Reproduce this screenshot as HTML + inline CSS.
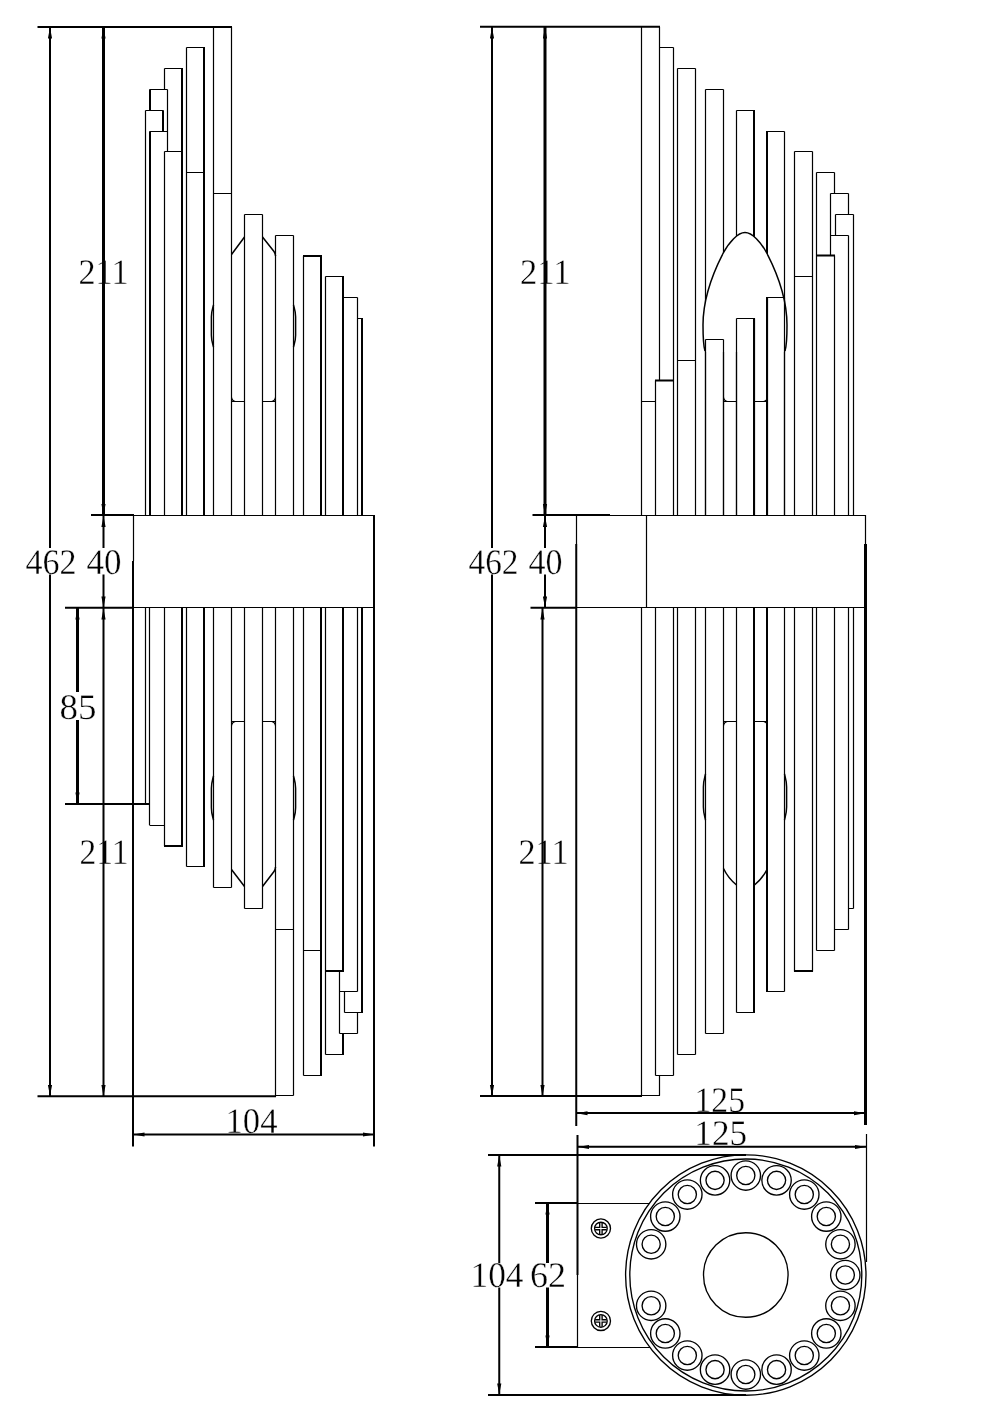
<!DOCTYPE html>
<html><head><meta charset="utf-8"><title>Wall lamp drawing</title>
<style>html,body{margin:0;padding:0;background:#fff;}body{width:992px;height:1403px;overflow:hidden;font-family:"Liberation Serif",serif;}svg{display:block;will-change:transform;opacity:0.999;}</style>
</head><body>
<svg width="992" height="1403" viewBox="0 0 992 1403">
<rect width="992" height="1403" fill="#fff"/>
<g font-family="'Liberation Serif', serif" font-size="36" fill="#000" stroke="#fff" stroke-width="0.35" text-rendering="geometricPrecision"><text x="103.5" y="284" text-anchor="middle" textLength="50" lengthAdjust="spacingAndGlyphs">211</text><text x="51" y="574" text-anchor="middle" textLength="51" lengthAdjust="spacingAndGlyphs">462</text><text x="104" y="574" text-anchor="middle" textLength="35" lengthAdjust="spacingAndGlyphs">40</text><text x="78" y="719" text-anchor="middle" textLength="37" lengthAdjust="spacingAndGlyphs">85</text><text x="104" y="864" text-anchor="middle" textLength="49" lengthAdjust="spacingAndGlyphs">211</text><text x="251.5" y="1133" text-anchor="middle" textLength="52" lengthAdjust="spacingAndGlyphs">104</text><text x="545.25" y="284" text-anchor="middle" textLength="50.5" lengthAdjust="spacingAndGlyphs">211</text><text x="493.5" y="574" text-anchor="middle" textLength="50" lengthAdjust="spacingAndGlyphs">462</text><text x="545.5" y="574" text-anchor="middle" textLength="34" lengthAdjust="spacingAndGlyphs">40</text><text x="543.5" y="863.75" text-anchor="middle" textLength="50" lengthAdjust="spacingAndGlyphs">211</text><text x="719.75" y="1111.9" text-anchor="middle" textLength="50.5" lengthAdjust="spacingAndGlyphs">125</text><text x="720.7" y="1144.5" text-anchor="middle" textLength="52.8" lengthAdjust="spacingAndGlyphs">125</text><text x="497" y="1287" text-anchor="middle" textLength="53" lengthAdjust="spacingAndGlyphs">104</text><text x="548" y="1287" text-anchor="middle" textLength="36" lengthAdjust="spacingAndGlyphs">62</text></g>
<g fill="none" stroke="#000" stroke-linecap="butt">
<path stroke-width="1.2" d="M133 515.5H374.5M133 607.5H374.5M133.5 515V561M145.5 110.5V515.5M145.5 110.5H163.5M167.5 89.5V151.5M149.5 89.5H167.5M149.5 131.5H167.5M164.5 68.5V89.5M164.5 151.5V515.5M164.5 68.5H182.5M164.5 151.5H182.5M186.5 47.5V515.5M186.5 47.5H204.5M186.5 172.5H204.5M213.5 27V515.5M231.5 27V515.5M213.5 193.5H231.5M244.5 214.5V515.5M262.5 214.5V515.5M244.5 214.5H262.5M275.5 235.5V515.5M293.5 235.5V515.5M275.5 235.5H293.5M303.5 256V515.5M325.5 276.5V515.5M325.5 276.5H343.5M357.5 297.5V515.5M343.5 297.5H357.5M357.5 318.5H362.5M231.5 401.5H244.5M231.5 397Q232 401 235.5 401.5M275.5 401.5H262.5M275.5 397Q275 401 271.5 401.5M145.5 607.5V804M149.5 607.5V825M149.5 825.5H164M164.5 607.5V846M186.5 607.5V866.5M186.5 866.5H204.5M213.5 607.5V887.5M231.5 607.5V887.5M213.5 887.5H231.5M244.5 607.5V908.5M262.5 607.5V908.5M244.5 908.5H262.5M275.5 607.5V1096.5M293.5 607.5V1095.5M275.5 929.5H293.5M275.5 1095.5H293.5M303.5 607.5V1075.5M303.5 950.5H321.5M303.5 1075.5H321.5M325.5 607.5V1054.5M325.5 1054.5H343.5M339.5 971V1033.5M357.5 607.5V991.5M357.5 1012.5V1033.5M339.5 991.5H357.5M339.5 1033.5H357.5M344.5 991.5V1012.5M344.5 1012.5H362.5M231.5 721.5H244.5M231.5 726Q232 722 235.5 721.5M275.5 721.5H262.5M275.5 726Q275 722 271.5 721.5M642 1095.5H660M576 515.5H865.5M576 607.5H865.5M576.5 515V544M646.5 515.5V607.5M865.5 515V544M641.5 27V515.5M641.5 401.5H655.5M655.5 380.5V515.5M659.5 27V380.5M673.5 47.5V515.5M659.5 47.5H673.5M677.5 68.5V515.5M695.5 68.5V515.5M677.5 68.5H695.5M677.5 360.5H695.5M705.5 89.5V515.5M723.5 89.5V515.5M705.5 89.5H723.5M736.5 110.5V515.5M736.5 110.5H754.5M784.5 131.5V515.5M767 131.5H784.5M794.5 151.5V515.5M812.5 151.5V515.5M794.5 151.5H812.5M794.5 276.5H812.5M816.5 172.5V515.5M834.5 172.5V193.5M834.5 255.5V515.5M816.5 172.5H834.5M830.5 193.5V255.5M848.5 193.5V214.5M848.5 235.5V515.5M830.5 193.5H848.5M830.5 235.5H848.5M835.5 214.5V235.5M853.5 214.5V515.5M835.5 214.5H853.5M641.5 607.5V1095.5M655.5 607.5V1075.5M659.5 1075.5V1095.5M673.5 607.5V1075.5M655.5 1075.5H673.5M677.5 607.5V1054.5M695.5 607.5V1054.5M677.5 1054.5H695.5M705.5 607.5V1033.5M723.5 607.5V1033.5M705.5 1033.5H723.5M736.5 607.5V1012.5M736.5 1012.5H754.5M784.5 607.5V991.5M767 991.5H784.5M794.5 607.5V971.5M812.5 607.5V971.5M816.5 607.5V950.5M834.5 607.5V950.5M816.5 950.5H834.5M848.5 607.5V929.5M834.5 929.5H848.5M853.5 607.5V908.5M848.5 908.5H853.5M723.5 721.5H736.5M723.5 726Q724 722 727.5 721.5M767.5 721.5H754.5M767.5 726Q767 722 763.5 721.5M577.5 1275V1347M577.5 1203.5H650M577.5 1347.5H650M866.5 1134V1262"/>
<path stroke-width="2" d="M37.5 27H232M50 27V548M50 574.5V1096.5M133 1134.5H374.5M480 26.75H660M492 27V548M492 574.5V1096M499.25 1155V1263M499.25 1287.5V1395M535 1203H578M535 1347H578"/>
<path stroke-width="1.5" d="M231.5 254.5L244.5 237M262.5 237L274 251.5Q275.5 253.5 275.5 256M213.5 305C212.66 308.36 211.4 311.3 211.4 316.76V335.24C211.4 340.7 212.66 343.64 213.5 347M293.5 305C294.34 308.36 295.6 311.3 295.6 316.76V335.24C295.6 340.7 294.34 343.64 293.5 347M231.5 869.5L244.5 886.5M262.5 886.5L274 871.5Q275.5 869.5 275.5 867M213.5 776C212.66 779.52 211.4 782.6 211.4 788.32V807.68C211.4 813.4 212.66 816.48 213.5 820M293.5 776C294.34 779.52 295.6 782.6 295.6 788.32V807.68C295.6 813.4 294.34 816.48 293.5 820M723.5 868.5Q728 878 736.5 885M767.5 868.5Q763 878 754.5 885M705.5 774C704.66 777.68 703.4 780.9 703.4 786.88V807.12C703.4 813.1 704.66 816.32 705.5 820M784.5 774C785.34 777.68 786.6 780.9 786.6 786.88V807.12C786.6 813.1 785.34 816.32 784.5 820"/>
<path stroke-width="2" d="M37.5 1096.25H276M103.5 515V548M103.5 574.5V608M103.5 608V1096.5M91 514.9H134M65 607.7H133M65 803.9H150M133 561V1146.5M374 515V1146.5M163 110.5V131.5M150 89.5V110.5M150 131.5V515.5M182 68V515.5M204 47V515.5M321 255.5V515.5M303 256H322M343 276V515.5M362 318V515.5M182 607.5V846.5M164 846H183M204 607.5V867M321 607.5V1076M343 607.5V972M343 1033.5V1055M325 971H344M362 607.5V1013M480 1096H642M545 515V548M545 574.5V608M542.5 608V1096M532.5 514.9H610M530.5 607.7H577M576.25 544V1126M576 1113H865.5M655 380.5H674M754 110V515.5M767 131V515.5M816 255.5H835M754 607.5V1013M767 607.5V992M794 971H813M488 1155H746M488 1395H746M577.5 1135V1275M577.5 1146.75H866.5"/>
<path stroke-width="3" d="M103.5 27V515M77.5 608V692M77.5 720V804M545 27V515M865.5 544V1125M547.5 1203V1263M547.5 1287.5V1347"/>
</g>
<path d="M745 232.5C752 232.5 761 242 767 253.5C776 271 787 298 787 325C787 338 786.5 346 785 351L785 352H705V351C703.5 346 703 338 703 325C703 298 714 271 723 253.5C729 242 738 232.5 745 232.5Z" fill="#fff" stroke="none"/>
<path d="M705 351C703.5 346 703 338 703 325C703 298 714 271 723 253.5C729 242 738 232.5 745 232.5C752 232.5 761 242 767 253.5C776 271 787 298 787 325C787 338 786.5 346 785 351" fill="none" stroke="#000" stroke-width="1.5"/>
<g fill="none" stroke="#000">
<path stroke-width="1.2" d="M705.5 339.5V515.5M723.5 339.5V515.5M705.5 339.5H723.5M736.5 318.5V515.5M754.5 318.5V515.5M736.5 318.5H754.5M767.5 297.5V515.5M784.5 297.5V515.5M767 297.5H784.5M723.5 401.5H736.5M723.5 397Q724 401 727.5 401.5M767.5 401.5H754.5M767.5 397Q767 401 763.5 401.5"/>
<path stroke-width="2" d="M754 318V515.5M767 297V515.5"/>
</g>
<g fill="none" stroke="#000" stroke-width="1.35"><circle cx="745.8" cy="1275" r="120.2"/><circle cx="745.8" cy="1275" r="116"/><circle cx="745.8" cy="1275" r="42.3"/><circle cx="745.80" cy="1175.50" r="14.7"/><circle cx="745.80" cy="1175.50" r="9.1"/><circle cx="776.55" cy="1180.37" r="14.7"/><circle cx="776.55" cy="1180.37" r="9.1"/><circle cx="804.28" cy="1194.50" r="14.7"/><circle cx="804.28" cy="1194.50" r="9.1"/><circle cx="826.30" cy="1216.52" r="14.7"/><circle cx="826.30" cy="1216.52" r="9.1"/><circle cx="840.43" cy="1244.25" r="14.7"/><circle cx="840.43" cy="1244.25" r="9.1"/><circle cx="845.30" cy="1275.00" r="14.7"/><circle cx="845.30" cy="1275.00" r="9.1"/><circle cx="840.43" cy="1305.75" r="14.7"/><circle cx="840.43" cy="1305.75" r="9.1"/><circle cx="826.30" cy="1333.48" r="14.7"/><circle cx="826.30" cy="1333.48" r="9.1"/><circle cx="804.28" cy="1355.50" r="14.7"/><circle cx="804.28" cy="1355.50" r="9.1"/><circle cx="776.55" cy="1369.63" r="14.7"/><circle cx="776.55" cy="1369.63" r="9.1"/><circle cx="745.80" cy="1374.50" r="14.7"/><circle cx="745.80" cy="1374.50" r="9.1"/><circle cx="715.05" cy="1369.63" r="14.7"/><circle cx="715.05" cy="1369.63" r="9.1"/><circle cx="687.32" cy="1355.50" r="14.7"/><circle cx="687.32" cy="1355.50" r="9.1"/><circle cx="665.30" cy="1333.48" r="14.7"/><circle cx="665.30" cy="1333.48" r="9.1"/><circle cx="651.17" cy="1305.75" r="14.7"/><circle cx="651.17" cy="1305.75" r="9.1"/><circle cx="651.17" cy="1244.25" r="14.7"/><circle cx="651.17" cy="1244.25" r="9.1"/><circle cx="665.30" cy="1216.52" r="14.7"/><circle cx="665.30" cy="1216.52" r="9.1"/><circle cx="687.32" cy="1194.50" r="14.7"/><circle cx="687.32" cy="1194.50" r="9.1"/><circle cx="715.05" cy="1180.37" r="14.7"/><circle cx="715.05" cy="1180.37" r="9.1"/><circle cx="600.9" cy="1228.5" r="9.6"/><circle cx="600.9" cy="1228.5" r="6.3"/><path d="M599.6999999999999 1222.7V1227.3H595.1M602.1 1222.7V1227.3H606.6999999999999M599.6999999999999 1234.3V1229.7H595.1M602.1 1234.3V1229.7H606.6999999999999"/><circle cx="600.9" cy="1320.9" r="9.6"/><circle cx="600.9" cy="1320.9" r="6.3"/><path d="M599.6999999999999 1315.1000000000001V1319.7H595.1M602.1 1315.1000000000001V1319.7H606.6999999999999M599.6999999999999 1326.7V1322.1000000000001H595.1M602.1 1326.7V1322.1000000000001H606.6999999999999"/></g>
<path fill="#000" d="M50 27.5L47.9 38.5H52.1ZM50 1096L47.9 1085H52.1ZM103.5 27.5L101.4 38.5H105.6ZM103.5 515L101.4 504H105.6ZM103.5 516L101.4 527H105.6ZM103.5 607.5L101.4 596.5H105.6ZM103.5 608.5L101.4 619.5H105.6ZM103.5 1096L101.4 1085H105.6ZM77.5 608.5L75.4 619.5H79.6ZM77.5 803.5L75.4 792.5H79.6ZM133.5 1134.5L144.5 1132.4V1136.6ZM374 1134.5L363 1132.4V1136.6ZM492 27.5L489.9 38.5H494.1ZM492 1096L489.9 1085H494.1ZM545 27.5L542.9 38.5H547.1ZM545 515L542.9 504H547.1ZM545 516L542.9 527H547.1ZM545 607.5L542.9 596.5H547.1ZM542.5 608.5L540.4 619.5H544.6ZM542.5 1096L540.4 1085H544.6ZM576.5 1113.25L587.5 1111.15V1115.35ZM865 1113.25L854 1111.15V1115.35ZM499.25 1155.5L497.15 1166.5H501.35ZM499.25 1394.5L497.15 1383.5H501.35ZM547.5 1203.5L545.4 1214.5H549.6ZM547.5 1346.5L545.4 1335.5H549.6ZM578 1147L589 1144.9V1149.1ZM866 1147L855 1144.9V1149.1Z"/>
</svg>
</body></html>
